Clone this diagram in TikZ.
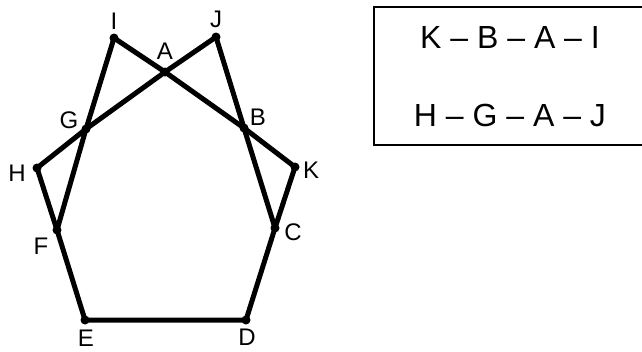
\documentclass[tikz,border=0pt]{standalone}
\usepackage{fontspec}
\setmainfont{Liberation Sans}
\begin{document}
\begin{tikzpicture}[x=1pt,y=-1pt,
  dot/.style={circle,fill=black,inner sep=0pt,minimum size=9pt},
  lbl/.style={font=\fontsize{24}{24}\selectfont,inner sep=0pt},
  seg/.style={line width=5pt,line cap=round,line join=round},
  row/.style={font=\fontsize{32}{32}\selectfont,inner sep=0pt}]
\useasboundingbox (0,0) rectangle (642,351);
\begin{scope}
\clip (0,0) rectangle (642,351);
% points
\node[dot] (I) at (114,38) {};
\node[dot] (J) at (216,37) {};
\node[dot] (A) at (165,72) {};
\node[dot] (G) at (86,129) {};
\node[dot] (B) at (244,128) {};
\node[dot] (H) at (37,168) {};
\node[dot] (K) at (295,167) {};
\node[dot] (F) at (57,230) {};
\node[dot] (C) at (275,228) {};
\node[dot] (E) at (85,320) {};
\node[dot] (D) at (246,320) {};
% segments
\draw[seg] (I.center) -- (G.center) -- (F.center) -- (E.center) -- (D.center) -- (C.center) -- (B.center) -- (J.center);
\draw[seg] (H.center) -- (F.center);
\draw[seg] (K.center) -- (C.center);
\draw[seg] (K.center) -- (B.center) -- (A.center) -- (I.center);
\draw[seg] (H.center) -- (G.center) -- (A.center) -- (J.center);
% labels
\node[lbl] (lI) at (114,21) {I};
\node[lbl] (lJ) at (216,19) {J};
\node[lbl] (lA) at (165,51) {A};
\node[lbl] (lG) at (69,120) {G};
\node[lbl] (lB) at (258,117) {B};
\node[lbl] (lH) at (17,173) {H};
\node[lbl] (lK) at (311,170) {K};
\node[lbl] (lF) at (41,246) {F};
\node[lbl] (lC) at (293,232) {C};
\node[lbl] (lE) at (86,338) {E};
\node[lbl] (lD) at (247,337) {D};
% box
\node[draw,line width=2pt,minimum width=290pt,minimum height=138pt,anchor=north west,inner sep=0pt] (box) at (373,6) {};
\node[row] (r1) at (510,37) {K – B – A – I};
\node[row] (r2) at (510,115) {H – G – A – J};
\end{scope}
\end{tikzpicture}
\end{document}
